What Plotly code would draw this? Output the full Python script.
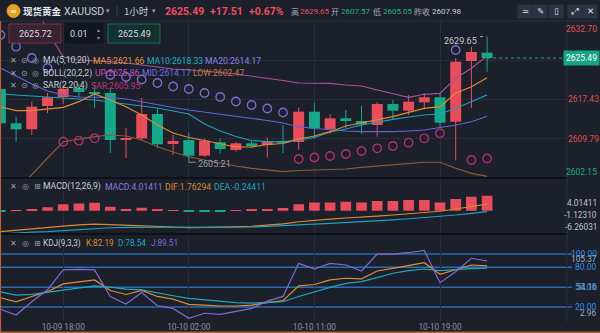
import plotly.graph_objects as go

# ---------------- data ----------------
tick_index = [4, 12, 20, 28]
tick_labels = ["10-09 18:00", "10-10 02:00", "10-10 11:00", "10-10 19:00"]

opens = [2619.47, 2612.79, 2611.63, 2616.16, 2617.91, 2619.66, 2618.73, 2618.69, 2609.58, 2609.87,
         2614.60, 2608.77, 2609.54, 2606.49, 2609.10, 2607.60, 2608.90, 2608.57, 2609.10, 2609.15,
         2615.05, 2611.63, 2613.77, 2613.24, 2612.46, 2616.55, 2615.25, 2616.88, 2617.85, 2613.10,
         2624.92, 2626.55]
highs = [2620.05, 2614.08, 2617.00, 2618.69, 2620.25, 2620.44, 2620.25, 2619.66, 2611.88, 2617.72,
         2615.77, 2610.52, 2610.96, 2609.87, 2609.87, 2609.21, 2609.35, 2610.03, 2612.46, 2615.87,
         2616.80, 2614.60, 2615.38, 2616.22, 2616.88, 2617.33, 2618.30, 2618.63, 2618.63, 2625.50,
         2627.70, 2629.65]
lows = [2612.27, 2609.21, 2610.52, 2614.80, 2616.55, 2617.91, 2615.77, 2607.01, 2606.04, 2609.54,
        2607.99, 2606.62, 2605.21, 2606.29, 2606.96, 2607.27, 2607.99, 2606.14, 2607.01, 2607.60,
        2609.87, 2610.71, 2611.88, 2610.71, 2610.19, 2613.44, 2614.41, 2615.52, 2611.82, 2605.60,
        2615.77, 2622.83]
closes = [2612.79, 2611.63, 2616.02, 2617.85, 2619.47, 2618.88, 2618.59, 2609.54, 2609.70, 2614.60,
          2608.71, 2609.35, 2606.49, 2609.41, 2607.79, 2608.90, 2608.57, 2609.15, 2609.00, 2615.05,
          2611.82, 2613.77, 2613.24, 2612.60, 2616.55, 2615.25, 2617.00, 2617.85, 2612.91, 2624.78,
          2626.67, 2625.49]

ma5 = [2616.02, 2615.25, 2615.25, 2615.52, 2615.91, 2617.00, 2618.50, 2617.33, 2616.02, 2614.41,
       2612.46, 2610.91, 2610.03, 2609.45, 2608.77, 2608.18, 2608.18, 2608.67, 2608.86, 2609.74,
       2610.32, 2611.16, 2612.27, 2612.91, 2613.44, 2614.08, 2614.93, 2615.71, 2616.02, 2618.63,
       2619.92, 2621.66]
ma10 = [2618.50, 2618.30, 2618.11, 2617.91, 2617.72, 2617.52, 2617.33, 2616.94, 2616.55, 2616.16,
        2615.77, 2615.19, 2614.60, 2612.66, 2611.30, 2610.23, 2609.45, 2609.21, 2609.21, 2609.54,
        2610.03, 2611.10, 2611.68, 2612.46, 2613.05, 2613.57, 2614.02, 2614.41, 2614.60, 2615.71,
        2617.00, 2618.33]
ma20 = [2623.55, 2622.00, 2620.44, 2619.08, 2618.30, 2617.91, 2617.91, 2617.81, 2617.52, 2616.94,
        2616.35, 2615.87, 2615.38, 2614.99, 2614.60, 2614.21, 2613.73, 2613.34, 2612.85, 2612.13,
        2611.78, 2611.49, 2611.30, 2611.16, 2611.10, 2611.16, 2611.30, 2611.49, 2611.98, 2612.46,
        2613.10, 2614.17]
boll_up = [2649.43, 2643.60, 2637.18, 2630.75, 2625.70, 2625.11, 2625.01, 2624.78, 2624.53, 2624.14,
           2623.75, 2623.36, 2623.17, 2622.97, 2622.68, 2622.39, 2622.00, 2621.61, 2621.12, 2620.64,
           2620.58, 2620.58, 2620.25, 2620.05, 2619.27, 2618.63, 2617.85, 2618.44, 2618.63, 2621.55,
           2623.50, 2625.86]
boll_low = [2596.31, 2599.62, 2602.93, 2606.04, 2609.21, 2609.74, 2610.19, 2610.52, 2610.32, 2609.54,
            2608.24, 2607.21, 2606.29, 2605.65, 2605.01, 2604.48, 2604.04, 2603.71, 2603.38, 2603.61,
            2603.71, 2603.71, 2603.90, 2604.23, 2604.48, 2604.82, 2605.07, 2605.21, 2605.21, 2604.04,
            2603.06, 2602.47]
sar = [2629.98, 2627.70, 2625.50, 2623.55, 2609.21, 2609.41, 2609.87, 2622.19, 2621.80, 2621.32,
       2620.64, 2619.95, 2619.47, 2618.69, 2617.91, 2617.04, 2616.35, 2615.67, 2614.90, 2605.85,
       2606.14, 2606.43, 2606.82, 2607.40, 2607.93, 2608.38, 2609.02, 2609.87, 2610.85, 2627.06,
       2605.65, 2605.95]

macd_hist = [-0.15, 0.15, 0.2, 0.9, 1.7, 1.9, 2.15, 1.05, 0.35, 0.8,
             0.25, 0.12, -0.25, -0.15, -0.12, 0.12, 0.2, 0.35, 0.75, 1.7,
             2.2, 2.2, 2.4, 2.2, 2.6, 2.6, 2.85, 2.85, 2.2, 3.1,
             3.75, 4.01411]
dif = [-5.6, -5.2, -4.85, -4.5, -4.1, -3.8, -3.6, -3.7, -3.9, -4.0,
       -4.2, -4.35, -4.5, -4.5, -4.45, -4.3, -4.15, -3.9, -3.5, -2.95,
       -2.55, -2.25, -1.95, -1.8, -1.45, -1.15, -0.8, -0.45, -0.15, 0.45,
       1.1, 1.76294]
dea = [-6.26031, -5.95, -5.75, -5.6, -5.3, -5.0, -4.75, -4.55, -4.45, -4.4,
       -4.4, -4.4, -4.42, -4.45, -4.45, -4.42, -4.35, -4.2, -4.05, -3.8,
       -3.6, -3.4, -3.2, -3.0, -2.75, -2.45, -2.15, -1.85, -1.55, -1.15,
       -0.7, -0.24411]

k_line = [34, 28, 36, 43, 55, 58, 61, 45, 39, 45, 36, 32, 24, 23, 21.6, 21.6, 23, 26.6, 29.6, 52,
          54, 61, 63.5, 62.6, 74.4, 78.5, 82.4, 87, 69.4, 76, 83.5, 82.19]
d_line = [43, 38, 39, 42, 46, 49, 52, 50, 47, 46, 41, 37, 33, 30.6, 28.5, 26.6, 26, 26.6, 28, 36,
          43, 49.8, 55.8, 58.4, 64.3, 71, 75, 77.4, 75, 77, 78, 78.54]
j_line = [16.6, 8, 28, 46, 76, 77, 76, 36, 24.6, 42, 22, 18, 2.96, 10.6, 9, 14, 18, 29, 36, 86,
          77.4, 86, 83.5, 74.4, 100, 100, 102, 105.37, 56.8, 73.4, 93.6, 89.51]
kdj_levels = [100, 80, 50, 20]

# ---------------- style ----------------
W, H = 600, 333
BG = "#1b202b"
GRID = "#262c39"
RED = "#e84d5b"
GREEN = "#15a98a"
NUM = "Roboto, sans-serif"
CJK = "Noto Sans CJK SC, sans-serif"
ICON = "DejaVu Sans, sans-serif"

idx = list(range(len(opens)))
PX = 15.7
x0 = -0.4 / PX
x1 = x0 + 567 / PX


def py(y):
    return 1 - y / H


fig = go.Figure()

# candle wicks
for col, cond in ((RED, lambda o, c: c >= o), (GREEN, lambda o, c: c < o)):
    xs, ys = [], []
    for i, o, h, l, c in zip(idx, opens, highs, lows, closes):
        if cond(o, c):
            xs += [i, i, None]
            ys += [l, h, None]
    fig.add_trace(go.Scatter(x=xs, y=ys, mode="lines", line=dict(color=col, width=1),
                             hoverinfo="skip", xaxis="x", yaxis="y"))

# candle bodies
bases = [min(o, c) for o, c in zip(opens, closes)]
heights = [max(abs(c - o), 0.2) for o, c in zip(opens, closes)]
colors = [RED if c >= o else GREEN for o, c in zip(opens, closes)]
fig.add_trace(go.Bar(x=idx, y=heights, base=bases, width=0.7, marker=dict(color=colors, line=dict(width=0)),
                     xaxis="x", yaxis="y"))

# indicator lines
for series, col in ((boll_low, "#8f5b36"), (ma20, "#6463d8"), (boll_up, "#a8509f"),
                    (ma10, "#1f9fbf"), (ma5, "#e08b2e")):
    fig.add_trace(go.Scatter(x=idx, y=series, mode="lines", line=dict(color=col, width=1.2),
                             xaxis="x", yaxis="y"))

sar_cols = ["#7d6bd0" if s > c else "#b8306f" for s, c in zip(sar, closes)]
fig.add_trace(go.Scatter(x=idx, y=sar, mode="markers",
                         marker=dict(symbol="circle-open", size=8.5, color=sar_cols, line=dict(width=1.3)),
                         xaxis="x", yaxis="y"))

# MACD
fig.add_trace(go.Bar(x=idx, y=macd_hist, width=0.68,
                     marker=dict(color=[RED if v >= 0 else GREEN for v in macd_hist], line=dict(width=0)),
                     xaxis="x2", yaxis="y2"))
fig.add_trace(go.Scatter(x=idx, y=dif, mode="lines", line=dict(color="#d98a34", width=1.2), xaxis="x2", yaxis="y2"))
fig.add_trace(go.Scatter(x=idx, y=dea, mode="lines", line=dict(color="#1fa0bc", width=1.2), xaxis="x2", yaxis="y2"))

# KDJ
for series, col in ((k_line, "#dd8e36"), (d_line, "#1fa7c2"), (j_line, "#8468d4")):
    fig.add_trace(go.Scatter(x=idx, y=series, mode="lines", line=dict(color=col, width=1.2),
                             xaxis="x3", yaxis="y3"))

shapes = []
annotations = []


def txt(s, x, y, color, size, anchor="left", family=NUM, **kw):
    annotations.append(dict(text=s, x=x / W, y=py(y), xref="paper", yref="paper", xanchor=anchor,
                            yanchor="middle", showarrow=False, borderpad=0,
                            font=dict(family=family, size=size, color=color), **kw))


def line_px(xa, ya, xb, yb, color, width=1, dash="solid"):
    shapes.append(dict(type="line", xref="paper", yref="paper", x0=xa / W, x1=xb / W, y0=py(ya), y1=py(yb),
                       line=dict(color=color, width=width, dash=dash), layer="above"))


def rect_px(xa, ya, xb, yb, fill, border=None):
    shapes.append(dict(type="rect", xref="paper", yref="paper", x0=xa / W, x1=xb / W, y0=py(yb), y1=py(ya),
                       fillcolor=fill, line=dict(color=border or fill, width=1), layer="above"))


# KDJ level lines
for lv in kdj_levels:
    shapes.append(dict(type="line", xref="paper", yref="y3", x0=0, x1=572 / W, y0=lv, y1=lv,
                       line=dict(color="#2a6db0", width=1.5), layer="below"))

# current price dotted line and high/low markers
shapes.append(dict(type="line", xref="x", yref="y", x0=idx[-1], x1=x1, y0=closes[-1], y1=closes[-1],
                   line=dict(color="#1aa88a", width=1, dash="dot")))
shapes.append(dict(type="line", xref="x", yref="y", x0=idx[-1] - 0.45, x1=idx[-1] - 0.05, y0=max(highs), y1=max(highs),
                   line=dict(color="#aab0bb", width=1, dash="dot")))
low_i = lows.index(min(lows))
shapes.append(dict(type="line", xref="x", yref="y", x0=low_i, x1=low_i + 0.45, y0=min(lows), y1=min(lows),
                   line=dict(color="#8a909c", width=1)))
annotations.append(dict(text=f"{max(highs):.2f}", x=idx[-1], y=max(highs), xref="x", yref="y", xanchor="right",
                        yanchor="middle", xshift=-8, yshift=-4, showarrow=False,
                        font=dict(family=NUM, size=9, color="#c3c8d1")))
annotations.append(dict(text=f"{min(lows):.2f}", x=low_i, y=min(lows), xref="x", yref="y", xanchor="left",
                        yanchor="middle", xshift=7, yshift=-2, showarrow=False,
                        font=dict(family=NUM, size=9, color="#9aa1ad")))

# separators and frame
line_px(0, 21, 600, 21, "#2a303d", 1)
line_px(0, 178, 567, 178, "#0d1016", 2)
line_px(0, 234, 567, 234, "#0d1016", 2)
line_px(567, 21, 567, 322, "#2a303d", 1)
line_px(0.5, 21, 0.5, 333, "#b5603a", 1.2)
line_px(0, 332.3, 600, 332.3, "#b5603a", 1.5)

# header
shapes.append(dict(type="circle", xref="paper", yref="paper", x0=7 / W, x1=20 / W, y0=py(17.5), y1=py(4.5),
                   fillcolor="#e9a122", line=dict(color="#e9a122", width=1), layer="above"))
txt("≡", 13.5, 11, "#ffffff", 8, anchor="center", family=ICON)
txt("<b>现货黄金</b>", 22, 11, "#e6e9ef", 9.5, family=CJK)
txt("XAUUSD", 63, 11, "#c9cdd6", 10.5)
txt("▾", 108, 11, "#9aa0ab", 7, anchor="center", family=ICON)
line_px(117, 6, 117, 16, "#3a4150", 1)
txt("1小时", 123, 11, "#c9cdd6", 9.5, family=CJK)
txt("▾", 154, 11, "#9aa0ab", 7, anchor="center", family=ICON)
txt("<b>2625.49</b>", 164, 11, "#f04e5e", 10.5)
txt("<b>+17.51</b>", 209, 11, "#f04e5e", 10.5)
txt("<b>+0.67%</b>", 248, 11, "#f04e5e", 10.5)
txt("高", 290, 11, "#a7adb8", 8, family=CJK)
txt("2629.65", 299, 11, "#f04e5e", 8)
txt("开", 330, 11, "#a7adb8", 8, family=CJK)
txt("2607.57", 340, 11, "#1fb48c", 8)
txt("低", 372, 11, "#a7adb8", 8, family=CJK)
txt("2605.05", 382, 11, "#1fb48c", 8)
txt("昨收", 413, 11, "#a7adb8", 8, family=CJK)
txt("2607.98", 431, 11, "#c9cdd6", 8)

# toolbar buttons
for (bx, glyph) in ((518, "≃"), (533, "✎"), (549, "▯"), (568, "⤢"), (583, "✕")):
    rect_px(bx, 5, bx + 14, 18, "#2b3345", "#2b3345")
    txt(glyph, bx + 7, 11.5, "#dfe3ea", 8.5, anchor="center", family=ICON)

# order row
rect_px(9, 24, 61, 43, "#3a2331", "#7a3346")
txt("2625.72", 35, 33.5, "#d7dae0", 9, anchor="center")
rect_px(65, 24, 103, 43, "#10151e", "#10151e")
txt("0.01", 79, 33.5, "#d7dae0", 9, anchor="center")
txt("▴", 98, 30, "#8a909c", 6, anchor="center", family=ICON)
txt("▾", 98, 38, "#8a909c", 6, anchor="center", family=ICON)
rect_px(108, 24, 160, 43, "#14302f", "#1b6e5f")
txt("2625.49", 134, 33.5, "#d7dae0", 9, anchor="center")

# indicator legends
ICOL = "#9ea4b0"
LS = 8.6


def icons(y, third="◎"):
    txt("✕", 13, y, ICOL, 8, anchor="center", family=ICON)
    txt("⊙", 24, y, ICOL, 8, anchor="center", family=ICON)
    txt(third, 35, y, ICOL, 8, anchor="center", family=ICON)


icons(61)
txt("MA(5,10,20)", 42, 61, "#c9cdd6", LS)
txt(f"MA5:{ma5[-1]:.2f}", 92, 61, "#e0923c", LS)
txt(f"MA10:{ma10[-1]:.2f}", 146, 61, "#22b0c8", LS)
txt(f"MA20:{ma20[-1]:.2f}", 204, 61, "#8b80e8", LS)
icons(73.5)
txt("BOLL(20,2,2)", 42, 73.5, "#c9cdd6", LS)
txt(f"UP:{boll_up[-1]:.2f}", 94, 73.5, "#c052b8", LS)
txt(f"MID:{ma20[-1]:.2f}", 141, 73.5, "#6e6ee8", LS)
txt(f"LOW:{boll_low[-1]:.2f}", 192, 73.5, "#c27c38", LS)
icons(86)
txt("SAR(2,20,4)", 42, 86, "#c9cdd6", LS)
txt(f"SAR:{sar[-1]:.2f}", 90, 86, "#c3327a", LS)

txt("✕", 13, 186.5, ICOL, 8, anchor="center", family=ICON)
txt("◎", 25, 186.5, ICOL, 8, anchor="center", family=ICON)
txt("⊞", 37, 186.5, ICOL, 8, anchor="center", family=ICON)
txt("MACD(12,26,9)", 42, 186.5, "#c9cdd6", LS)
txt(f"MACD:{macd_hist[-1]:.5f}", 104, 186.5, "#8d7be0", LS)
txt(f"DIF:{dif[-1]:.5f}", 164, 186.5, "#d98a34", LS)
txt(f"DEA:{dea[-1]:.5f}", 213, 186.5, "#1fa5c0", LS)

txt("✕", 13, 243, ICOL, 8, anchor="center", family=ICON)
txt("◎", 25, 243, ICOL, 8, anchor="center", family=ICON)
txt("⊞", 37, 243, ICOL, 8, anchor="center", family=ICON)
txt("KDJ(9,3,3)", 42, 243, "#c9cdd6", 8.2)
txt(f"K:{k_line[-1]:.2f}", 85, 243, "#dd8e36", 8.2)
txt(f"D:{d_line[-1]:.2f}", 117, 243, "#1fa7c2", 8.2)
txt(f"J:{j_line[-1]:.2f}", 150, 243, "#8468d4", 8.2)

# right axis extra labels
txt("2632.70", 598, 29, "#e0505a", 8.5, anchor="right")
txt("2602.15", 598, 172, "#1aa88a", 8.5, anchor="right")
annotations.append(dict(text=f"{closes[-1]:.2f}", x=1.0, y=closes[-1], xref="paper", yref="y", xanchor="right",
                        yanchor="middle", showarrow=False, bgcolor="#17a386", borderpad=2,
                        font=dict(family=NUM, size=8.5, color="#ffffff")))
mmax = max(macd_hist + dif + dea)
mmin = min(macd_hist + dif + dea)
for v, sh in ((mmax, -7), ((mmax + mmin) / 2, 0), (mmin, 7)):
    annotations.append(dict(text=f"{v:.5f}", x=598 / W, y=v, xref="paper", yref="y2", xanchor="right",
                            yanchor="middle", yshift=sh, showarrow=False, borderpad=0,
                            font=dict(family=NUM, size=8.3, color="#c0c5ce")))
kmax = max(j_line)
kmin = min(j_line)
for v, sh in ((kmax, -8.5), ((kmax + kmin) / 2, -2.5), (kmin, 5)):
    annotations.append(dict(text=f"{v:.2f}", x=598 / W, y=v, xref="paper", yref="y3", xanchor="right",
                            yanchor="middle", yshift=sh, showarrow=False, borderpad=0,
                            font=dict(family=NUM, size=8.3, color="#a9aeb8")))
for lv in kdj_levels:
    annotations.append(dict(text=f"{lv:.2f}", x=598 / W, y=lv, xref="paper", yref="y3", xanchor="right",
                            yanchor="middle", showarrow=False, borderpad=0,
                            font=dict(family=NUM, size=8.5, color="#2f8fe8")))

xcommon = dict(range=[x0, x1], domain=[0, 567 / W], tickvals=tick_index, ticktext=tick_labels,
               showgrid=True, gridcolor=GRID, gridwidth=1, zeroline=False, showline=False, ticks="",
               fixedrange=True)

fig.update_layout(
    width=W, height=H, margin=dict(l=0, r=0, t=0, b=0),
    paper_bgcolor=BG, plot_bgcolor=BG, showlegend=False, barmode="overlay",
    xaxis=dict(**xcommon, anchor="y", showticklabels=False),
    xaxis2=dict(**xcommon, anchor="y2", showticklabels=False),
    xaxis3=dict(**xcommon, anchor="y3", showticklabels=True,
                tickfont=dict(family=NUM, size=8.2, color="#8b93a5")),
    yaxis=dict(domain=[py(178), py(21)], range=[2602.15, 2632.70], side="right", anchor="x",
               tickvals=[2632.70, 2625.07, 2617.43, 2609.79, 2602.15],
               ticktext=["", "", "2617.43", "2609.79", ""],
               tickfont=dict(family=NUM, size=8.5, color="#e0505a"),
               showgrid=True, gridcolor=GRID, zeroline=False, ticks=""),
    yaxis2=dict(domain=[py(234.5), py(178)], range=[-6.36, 8.74], side="right", anchor="x2",
                showticklabels=False, showgrid=False, zeroline=False),
    yaxis3=dict(domain=[py(321), py(234.5)], range=[-1.06, 129.5], side="right", anchor="x3",
                showticklabels=False, showgrid=False, zeroline=False),
    shapes=shapes, annotations=annotations,
)

fig.write_html("out.html")
